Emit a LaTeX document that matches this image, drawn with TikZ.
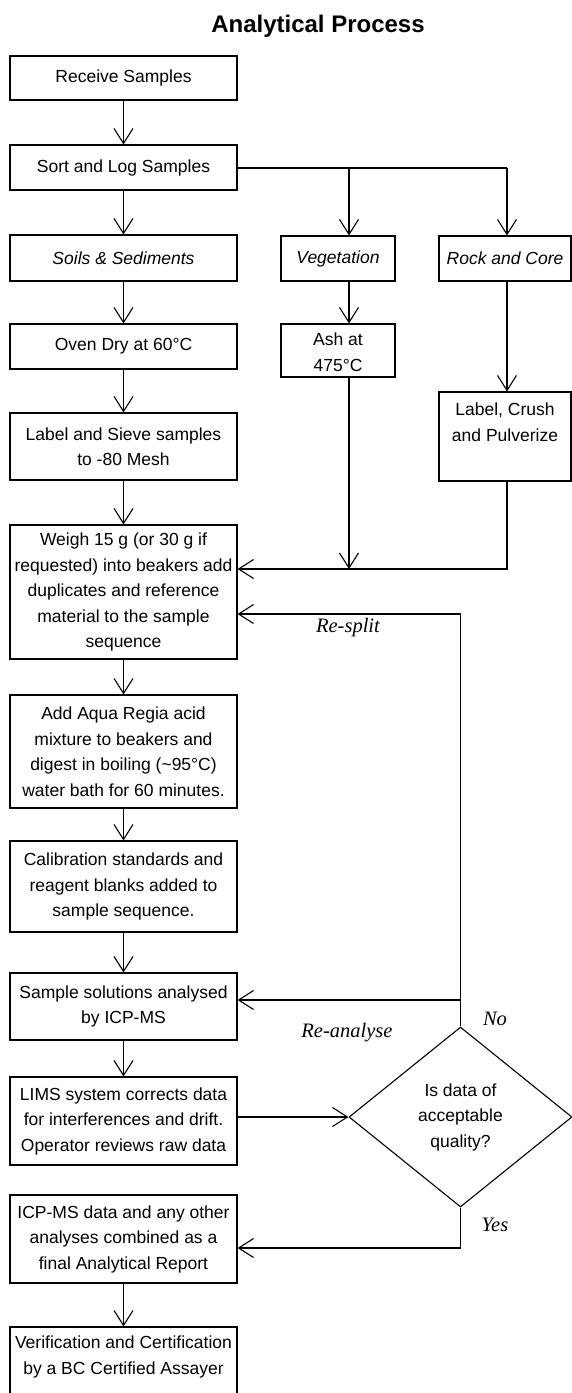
\documentclass[tikz,border=0pt]{standalone}
\usepackage{fontspec}
\setmainfont{Liberation Sans}
\newfontfamily\lblfont{Liberation Serif}
\usetikzlibrary{arrows.meta,shapes.geometric}
\begin{document}
\begin{tikzpicture}[x=1pt,y=1pt,
  every node/.style={font=\fontsize{17.5}{25.5}\selectfont},
  box/.style={draw, line width=1.1pt, inner sep=0pt, align=center, minimum width=227pt},
  pbox/.style={draw, line width=1.1pt, inner sep=0pt},
  ln/.style={line width=1.1pt},
  arr/.style={line width=1.1pt, -{Straight Barb[length=15pt,width=19pt,line width=1.1pt]}},
  lbl/.style={font=\lblfont\itshape\fontsize{20.5}{24}\selectfont, inner sep=0pt}]
\clip (0,0) rectangle (572,-1393);
% title
\node[anchor=base, font=\fontsize{24}{28}\selectfont\bfseries] (title) at (318,-32) {Analytical Process};
% left column
\node[box, minimum height=44pt] (recv) at (123.5,-78) {Receive Samples};
\node[box, minimum height=45pt] (sort) at (123.5,-167.5) {Sort and Log Samples};
\node[box, minimum height=46pt] (soils) at (123.5,-258) {\itshape Soils \& Sediments};
\node[box, minimum width=114pt, minimum height=45pt] (veg) at (338,-258.5) {\itshape Vegetation};
\node[box, minimum width=132pt, minimum height=45pt] (rock) at (505,-258.5) {\itshape Rock and Core};
\node[box, minimum height=45pt] (oven) at (123.5,-346.5) {Oven Dry at 60°C};
\node[pbox] (ash) at (338,-350.5) {\parbox[c][53pt][t]{114pt}{\centering\vspace*{9pt}Ash at\\475°C}};
\node[box, minimum height=67pt] (sieve) at (123.5,-446.5) {Label and Sieve samples\\to -80 Mesh};
\node[pbox] (crush) at (505,-436.5) {\parbox[c][89pt][t]{132pt}{\centering\vspace*{11pt}Label, Crush\\and Pulverize}};
\node[box, minimum height=134pt] (weigh) at (123.5,-592) {Weigh 15 g (or 30 g if\\requested) into beakers add\\duplicates and reference\\material to the sample\\sequence};
\node[box, minimum height=113pt] (aqua) at (123.5,-751.5) {Add Aqua Regia acid\\mixture to beakers and\\digest in boiling (\textasciitilde 95°C)\\water bath for 60 minutes.};
\node[box, minimum height=91pt] (cal) at (123.5,-886.5) {Calibration standards and\\reagent blanks added to\\sample sequence.};
\node[box, minimum height=67pt] (sample) at (123.5,-1006.5) {Sample solutions analysed\\by ICP-MS};
\node[box, minimum height=88pt] (lims) at (123.5,-1121) {LIMS system corrects data\\for interferences and drift.\\Operator reviews raw data};
\node[box, minimum height=88pt] (icp) at (123.5,-1239) {ICP-MS data and any other\\analyses combined as a\\final Analytical Report};
\node[pbox] (verif) at (123.5,-1367) {\parbox[c][80pt][t]{227pt}{\centering\vspace*{9pt}Verification and Certification\\by a BC Certified Assayer}};
% decision
\node[draw, line width=1.1pt, diamond, inner sep=0pt, minimum width=223pt, minimum height=180pt, align=center] (dia) at (460.5,-1117) {Is data of\\acceptable\\quality?};
% junctions
\coordinate (jv) at (349,-168);
\coordinate (jr) at (507,-168);
\coordinate (mv) at (349,-569);
\coordinate (mr) at (507,-569);
\coordinate (rs) at (460.5,-614);
\coordinate (ra) at (460.5,-1000);
\coordinate (ys) at (460.5,-1248);
% connectors
\draw[arr] (recv) -- (sort);
\draw[arr] (sort) -- (soils);
\draw[ln] (sort.east |- jv) -- (jr);
\draw[arr] (jv) -- (veg.north -| jv);
\draw[arr] (jr) -- (rock.north -| jr);
\draw[arr] (soils) -- (oven);
\draw[arr] (veg.south -| jv) -- (ash.north -| jv);
\draw[arr] (rock.south -| jr) -- (crush.north -| jr);
\draw[arr] (oven) -- (sieve);
\draw[arr] (sieve) -- (weigh);
\draw[arr] (ash.south -| mv) -- (mv);
\draw[arr] (crush.south -| mr) -- (mr) -- (weigh.east |- mr);
\draw[arr] (weigh) -- (aqua);
\draw[arr] (aqua) -- (cal);
\draw[arr] (cal) -- (sample);
\draw[arr] (sample) -- (lims);
\draw[arr] (lims.east |- dia.west) -- (dia.west);
\draw[arr] (dia.north) -- (rs) -- (weigh.east |- rs);
\draw[arr] (ra) -- (sample.east |- ra);
\draw[arr] (dia.south) -- (ys) -- (icp.east |- ys);
\draw[arr] (icp) -- (verif);
% labels
\node[lbl] (lresplit) at (348,-628) {Re-split};
\node[lbl] (lreanalyse) at (347,-1033) {Re-analyse};
\node[lbl] (lno) at (495,-1019) {No};
\node[lbl] (lyes) at (495,-1225) {Yes};
\end{tikzpicture}
\end{document}
